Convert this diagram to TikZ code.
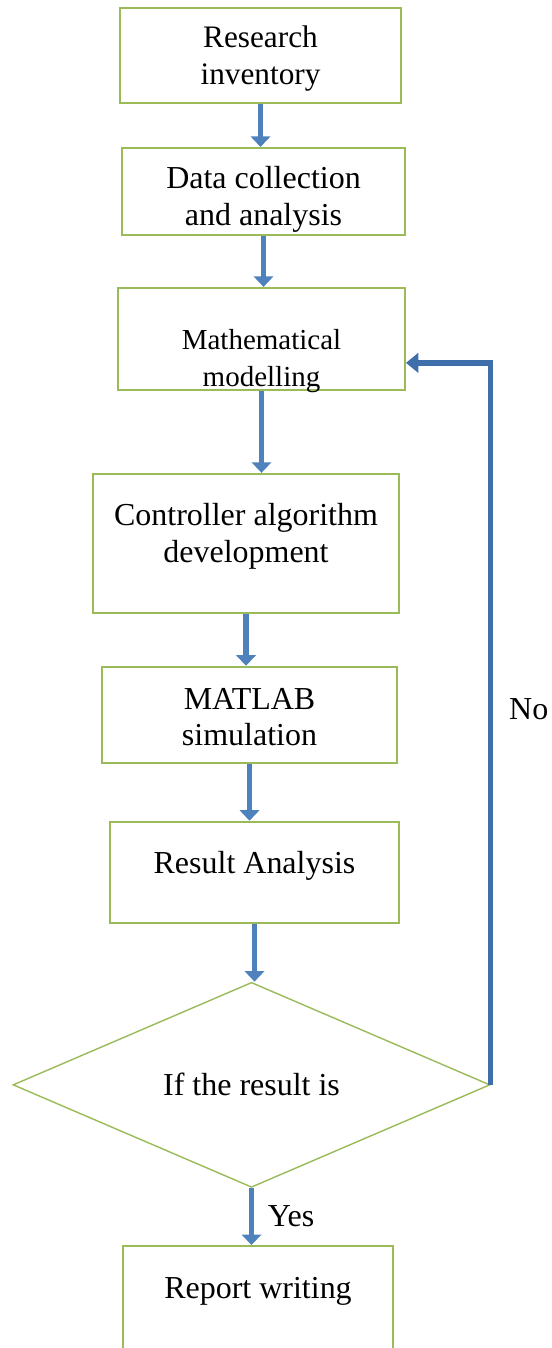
\documentclass[tikz,border=0pt]{standalone}
\usepackage{fontspec}
\setmainfont{Liberation Serif}
\usepackage{tikz}
\usetikzlibrary{arrows.meta,positioning,shapes.geometric}

\definecolor{boxgreen}{HTML}{9BBB59}
\definecolor{flowblue}{HTML}{4F81BD}
\definecolor{loopblue}{HTML}{3F6FAA}

\begin{document}
\begin{tikzpicture}[
  stepbox/.style={draw=boxgreen, line width=1.1pt, rectangle, align=center,
    font=\fontsize{18.2}{21}\selectfont, inner sep=0pt},
  decbox/.style={draw=boxgreen, line width=0.8pt, diamond, inner sep=0pt,
    font=\fontsize{18.2}{21}\selectfont},
  flow/.style={color=flowblue, line width=3.4pt, -{Triangle[width=11pt,length=6pt]}},
  back/.style={color=loopblue, line width=3pt, -{Triangle[width=11pt,length=7pt]}},
  lbl/.style={text=black, font=\fontsize{18.2}{21}\selectfont}
]
\useasboundingbox (0,0) rectangle (11.04,-26.96);

\node[stepbox, minimum width=5.62cm, minimum height=1.9cm, text depth=0cm, font=\fontsize{17.8}{21}\selectfont](res) at (5.21,-1.11){Research\\inventory};
\node[stepbox, minimum width=5.66cm, minimum height=1.74cm, text depth=0cm, text height=1.35cm](data)[below = 0.86cm of res, xshift=0.06cm]{Data collection\\and analysis};
\node[stepbox, minimum width=5.74cm, minimum height=2.04cm, text depth=0cm, text height=1.9cm, font=\fontsize{16.5}{21}\selectfont](model)[below = 1.02cm of data, xshift=-0.04cm]{Mathematical\\modelling};
\node[stepbox, minimum width=6.12cm, minimum height=2.78cm, text depth=0.4cm](ctrl)[below = 1.64cm of model, xshift=-0.31cm]{Controller algorithm\\development};
\node[stepbox, minimum width=5.9cm, minimum height=1.92cm, text depth=0cm, text height=1.25cm](sim)[below = 1.04cm of ctrl, xshift=0.07cm]{MATLAB\\simulation};
\node[stepbox, minimum width=5.78cm, minimum height=2.02cm, text depth=0.4cm](ana)[below = 1.14cm of sim, xshift=0.1cm]{Result Analysis};
\node[decbox, minimum width=9.54cm, minimum height=4.1cm](dec)[below = 1.16cm of ana, xshift=-0.06cm]{If the result is};
\node[stepbox, minimum width=5.4cm, minimum height=2.12cm, text depth=0.44cm](rep)[below = 1.14cm of dec, xshift=0.13cm]{Report writing};

\path[flow]
(res.south) edge (res.south |- data.north)
(data.south) edge (data.south |- model.north)
(model.south) edge (model.south |- ctrl.north)
(ctrl.south) edge (ctrl.south |- sim.north)
(sim.south) edge (sim.south |- ana.north)
(ana.south) edge (ana.south |- dec.north)
(dec.south) edge node[lbl, right=0.15cm]{Yes} (dec.south |- rep.north);

% back to the model when the result is not good
\draw[back] (dec.east) |- node[lbl, right=0.2cm, pos=0.26]{No} ([yshift=-0.48cm]model.east);

\end{tikzpicture}
\end{document}
